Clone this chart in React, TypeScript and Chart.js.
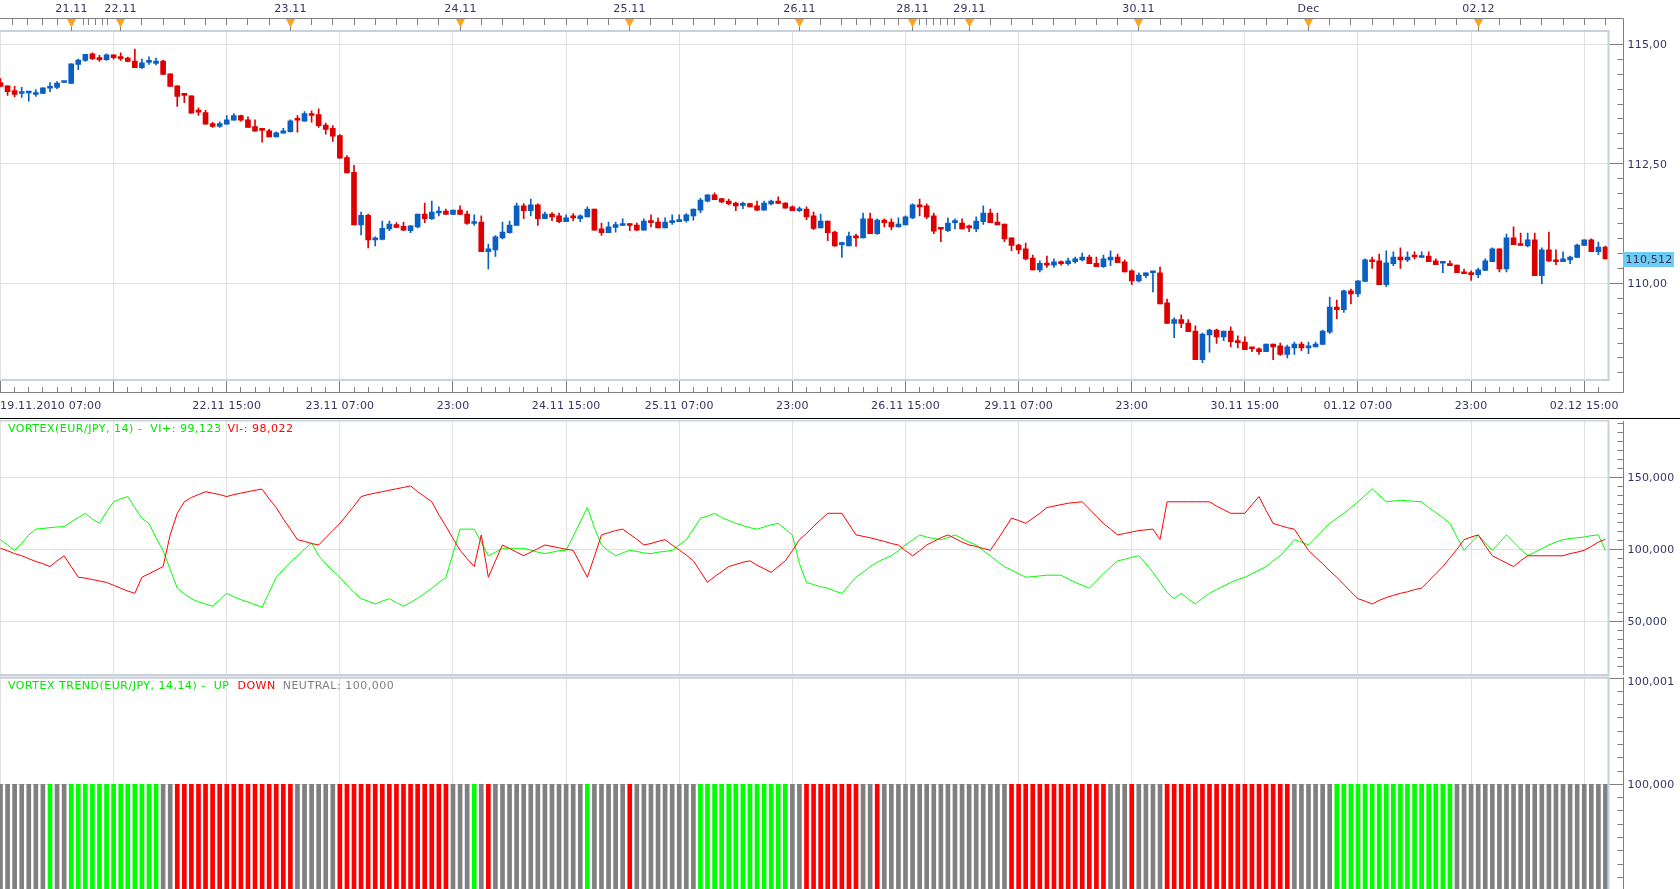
import React, { useEffect, useRef } from "react";
import { Chart, registerables } from "chart.js";

Chart.register(...registerables);

// ---------------- data ----------------
const OPEN = [114.20,114.13,114.03,113.97,113.98,113.95,113.97,114.08,114.10,114.20,114.18,114.58,114.66,114.80,114.72,114.68,114.78,114.74,114.71,114.65,114.51,114.62,114.60,114.65,114.38,114.13,113.94,113.92,113.60,113.57,113.34,113.28,113.33,113.41,113.51,113.42,113.28,113.22,113.19,113.06,113.14,113.17,113.42,113.39,113.55,113.53,113.31,113.24,113.09,112.63,112.32,111.22,111.42,110.91,110.92,111.14,111.23,111.19,111.10,111.18,111.45,111.35,111.47,111.51,111.44,111.53,111.45,111.25,111.28,110.66,110.70,110.95,111.06,111.21,111.62,111.52,111.64,111.35,111.45,111.41,111.29,111.39,111.35,111.39,111.55,111.14,111.06,111.17,111.21,111.24,111.22,111.11,111.30,111.28,111.16,111.27,111.29,111.31,111.41,111.53,111.72,111.85,111.77,111.72,111.68,111.63,111.67,111.62,111.53,111.66,111.72,111.68,111.60,111.52,111.55,111.41,111.16,111.30,111.07,110.81,110.78,110.99,110.95,111.35,111.04,111.32,111.28,111.18,111.22,111.37,111.64,111.62,111.41,111.14,111.10,111.27,111.26,111.18,111.14,111.29,111.47,111.28,111.24,110.95,110.80,110.72,110.53,110.28,110.42,110.38,110.45,110.41,110.45,110.49,110.55,110.42,110.35,110.49,110.55,110.45,110.26,110.05,110.16,110.22,110.22,109.59,109.16,109.24,109.17,109.00,108.40,108.92,109.02,108.88,109.00,108.79,108.77,108.65,108.63,108.57,108.73,108.69,108.51,108.65,108.73,108.65,108.67,108.72,108.98,109.50,109.45,109.84,109.78,110.04,110.49,110.47,109.97,110.41,110.55,110.49,110.57,110.54,110.57,110.47,110.42,110.40,110.38,110.24,110.22,110.18,110.27,110.45,110.72,110.30,110.95,110.83,110.78,110.91,110.16,110.70,110.49,110.45,110.49,110.54,110.79,110.91,110.66,110.76];
const HIGH = [114.28,114.13,114.12,114.10,113.99,114.05,114.09,114.20,114.22,114.21,114.59,114.69,114.79,114.82,114.77,114.80,114.78,114.82,114.73,114.90,114.69,114.74,114.71,114.67,114.38,114.13,113.94,113.92,113.67,113.62,113.37,113.38,113.51,113.55,113.52,113.48,113.42,113.22,113.22,113.17,113.24,113.42,113.51,113.59,113.61,113.65,113.35,113.30,113.11,112.67,112.47,111.49,111.45,110.97,111.30,111.30,111.27,111.28,111.21,111.45,111.68,111.72,111.60,111.55,111.53,111.62,111.51,111.43,111.41,110.82,111.00,111.28,111.30,111.68,111.67,111.76,111.66,111.49,111.48,111.47,111.43,111.46,111.43,111.60,111.55,111.26,111.28,111.28,111.35,111.25,111.26,111.35,111.43,111.37,111.37,111.43,111.43,111.46,111.55,111.78,111.85,111.89,111.78,111.76,111.70,111.70,111.68,111.72,111.72,111.74,111.81,111.69,111.62,111.60,111.60,111.49,111.45,111.30,111.09,110.86,111.07,111.03,111.47,111.47,111.35,111.35,111.35,111.37,111.41,111.66,111.76,111.66,111.47,111.14,111.37,111.35,111.35,111.22,111.39,111.62,111.55,111.47,111.24,110.95,110.82,110.84,110.59,110.47,110.57,110.51,110.47,110.53,110.55,110.63,110.59,110.55,110.59,110.68,110.61,110.49,110.28,110.22,110.22,110.23,110.34,109.67,109.28,109.34,109.24,109.11,108.96,109.04,109.04,109.00,109.09,108.90,108.88,108.65,108.65,108.73,108.73,108.75,108.71,108.77,108.77,108.77,108.77,109.02,109.71,109.65,109.86,109.88,110.05,110.51,110.55,110.61,110.68,110.66,110.74,110.66,110.66,110.66,110.66,110.51,110.45,110.47,110.38,110.30,110.26,110.32,110.51,110.74,110.72,111.03,111.18,111.05,111.05,111.05,110.74,111.07,110.70,110.66,110.57,110.82,110.91,110.93,110.86,110.78];
const LOW = [114.12,113.93,113.90,113.89,113.81,113.91,113.97,114.01,114.07,114.20,114.18,114.47,114.64,114.68,114.64,114.66,114.69,114.66,114.63,114.51,114.49,114.58,114.57,114.37,114.12,113.70,113.78,113.56,113.51,113.33,113.26,113.26,113.33,113.41,113.39,113.26,113.18,112.95,113.06,113.06,113.14,113.16,113.16,113.39,113.37,113.26,113.12,112.97,112.62,112.31,111.22,111.01,110.74,110.78,110.91,111.10,111.16,111.10,111.06,111.16,111.27,111.33,111.41,111.44,111.44,111.44,111.23,111.21,110.66,110.30,110.56,110.93,111.05,111.21,111.35,111.41,111.21,111.35,111.31,111.27,111.29,111.31,111.29,111.39,111.11,111.00,111.06,111.07,111.21,111.10,111.10,111.11,111.18,111.16,111.16,111.23,111.29,111.28,111.32,111.48,111.70,111.75,111.68,111.64,111.52,111.56,111.60,111.52,111.53,111.64,111.67,111.57,111.52,111.50,111.33,111.12,111.16,110.89,110.77,110.54,110.78,110.77,110.95,111.04,111.02,111.18,111.12,111.18,111.22,111.35,111.41,111.35,111.04,110.87,111.08,111.14,111.14,111.08,111.08,111.23,111.27,111.22,110.87,110.68,110.62,110.49,110.28,110.24,110.33,110.33,110.38,110.38,110.42,110.47,110.41,110.35,110.33,110.37,110.43,110.24,109.97,110.03,110.12,109.82,109.57,109.16,108.86,109.07,108.99,108.40,108.34,108.56,108.74,108.80,108.67,108.65,108.61,108.57,108.51,108.57,108.40,108.49,108.44,108.51,108.59,108.53,108.67,108.72,108.95,109.26,109.39,109.57,109.72,110.04,110.31,109.97,109.93,110.37,110.31,110.45,110.51,110.54,110.45,110.39,110.22,110.37,110.22,110.20,110.06,110.12,110.27,110.45,110.24,110.24,110.81,110.79,110.76,110.16,109.99,110.45,110.39,110.45,110.41,110.54,110.79,110.66,110.60,110.51];
const CLOSE = [114.12,114.01,113.95,113.99,113.99,113.99,114.09,114.11,114.19,114.21,114.59,114.67,114.79,114.70,114.68,114.78,114.72,114.70,114.64,114.51,114.61,114.63,114.65,114.37,114.12,113.91,113.93,113.56,113.58,113.33,113.28,113.34,113.42,113.51,113.41,113.26,113.18,113.20,113.06,113.15,113.19,113.40,113.41,113.55,113.51,113.30,113.22,113.08,112.62,112.31,111.22,111.42,110.91,110.94,111.15,111.24,111.17,111.11,111.20,111.45,111.35,111.49,111.51,111.44,111.53,111.44,111.25,111.28,110.66,110.72,110.97,111.07,111.22,111.62,111.52,111.64,111.35,111.45,111.39,111.29,111.37,111.37,111.41,111.55,111.11,111.06,111.18,111.23,111.24,111.21,111.11,111.30,111.27,111.16,111.28,111.30,111.32,111.43,111.55,111.74,111.85,111.75,111.70,111.66,111.62,111.66,111.60,111.53,111.68,111.72,111.67,111.57,111.52,111.55,111.39,111.15,111.30,111.06,110.78,110.82,110.99,110.95,111.35,111.04,111.32,111.27,111.18,111.24,111.39,111.64,111.60,111.39,111.09,111.13,111.26,111.28,111.14,111.16,111.30,111.47,111.27,111.22,110.93,110.79,110.70,110.51,110.28,110.42,110.38,110.45,110.41,110.47,110.51,110.55,110.41,110.35,110.51,110.55,110.43,110.24,110.05,110.17,110.22,110.23,109.57,109.16,109.24,109.16,108.99,108.40,108.94,109.02,108.88,109.00,108.78,108.76,108.61,108.63,108.57,108.73,108.67,108.51,108.67,108.73,108.65,108.69,108.73,109.00,109.50,109.45,109.84,109.78,110.05,110.49,110.45,109.97,110.43,110.55,110.49,110.55,110.55,110.57,110.45,110.39,110.43,110.37,110.22,110.20,110.18,110.28,110.47,110.72,110.30,110.95,110.81,110.79,110.91,110.16,110.70,110.47,110.45,110.51,110.55,110.80,110.91,110.66,110.76,110.512];

const VI_PLUS = [106.7,103,99.3,104,110,114,114.5,115,115.5,115.7,119,122,125,121,118,126,133,135,136.6,129,121.6,118,108,99,86,73,69,65.7,63.5,62,60.5,65,69.4,67,65,63.4,61.5,59.7,70,80.6,86,91,95.5,100,104.5,95.5,90,85,80.6,75,70,65.7,64,62,64,65.7,63,60.5,63,66,69.4,73,77,80.6,97,114,114,114,105,95.5,98,100.7,100.7,100.7,100.7,99.5,98,97,98,99,99.3,109,119,129,115,103,99,95.5,97.5,99.3,98.5,97.5,97,98,98.5,99.3,103,106.7,114,121.6,123,125,122,120,118,116.5,115,114,115.5,117,118,114,110,90,77,75.5,74,73,71,69.4,75,80.6,84,88,91,93.5,95.5,99,103,106.5,110,108.5,107.5,106.7,108,110,107.5,105,103,99,95.5,91.5,88,85.5,83,80.6,81,81.5,82,82,82,79.5,77,75,73,78,83,87.5,92,93,94.5,95.5,90,84,77,70,65.7,69.4,65.5,62,66,69.4,72,74.5,77,79,80.6,83,85.5,88,92,95.5,101,106.7,105,103,108,113,118,121.5,125,129,133,137.5,142,137.5,133,133.5,134,133.7,133.3,133,129,125.5,122,118,108.5,99.3,104.5,110,104.5,99.3,104.5,110,105,100,95.5,98,100.5,103,105,106.7,107.5,108,108.5,109.5,110,99.1];
const VI_MINUS = [100.7,99,97,95.5,93.5,91.5,90,88,92,95.5,88,80.6,80,79,78,77,75,73,71,69.4,80.6,83,85.5,88,110,125,133,136,138,140,139,138,136.6,138,139,140,141,141.8,135,129,121,114,106.7,105.5,104,103,108,113,118,124,130,136.6,138,139,140,141,142,143,144,140,136.5,133,124,116,107.5,99.3,93.5,88,110,80.6,92,103,100.5,98,95.5,98,100.5,103,102,101,100,99.3,90,80.6,95,110,111.5,113,114,110.5,107,103,104,105.5,106.7,103,99.5,96,92,84.5,77,81,84.5,88,89.5,91,92,89,86.5,84,88,92,99,106.7,111,116,120.5,125,125,125,117.5,110,109,108,106.7,105.5,104,103,99,95.5,99,103,105.5,108,110,107.5,105,103,102,100.5,99.3,106.5,114,121.6,120,118,121.5,125,129,130,131,132,132.5,133,128,123,118,114,110,111,112,113,113.5,114,106.7,133,133,133,133,133,133,133,130,127.5,125,125,125,131,136.6,127,118,116.5,115,114,106.5,99.3,94.5,90,85,80.6,75.5,70.5,65.7,64,62,64.5,66.5,68,69.4,70.5,72,73,78,83,88,94,100,106.7,108.5,110,102.5,95.5,93,90.5,88,92,95.5,95.5,95.5,95.5,95.5,95.5,97,98,99.3,102,105,107];

// U = up (green), D = down (red), N = neutral (grey); one letter per bar, read left to right
const TREND = [
  "NNNNNNN", "U", "NN", "UUUUUUUUUUUUU", "NN", "DDDDDDDDDDDDDDDDD", "NNNNNN", "DDDDDDDDDDDDDDDD",
  "NNN", "U", "N", "D", "NNNNNNNNNNNNN", "U", "NNNNN", "D", "NNNNNNNNN", "UUUUUUUUUUUUU",
  "NN", "DDDDDDDD", "NN", "D", "NNNNNNNNNNNNNNNNNN", "DDDDDDDDDDDDDD", "NNN", "D", "NNNN",
  "DDDDDDDDDDDDDDDDDD", "NNNNNN", "UUUUUUUUUUUUUUUUU", "NNNNNNNNNNNNNNNNNNNNNN",
].join("").split("");

const MARKER_LABELS = ["21.11", "22.11", "23.11", "24.11", "25.11", "26.11", "28.11", "29.11", "30.11", "Dec", "02.12"];
const MARKER_INDEX = [10, 17, 41, 65, 89, 113, 129, 137, 161, 185, 209];
const TIME_LABELS = ["19.11.2010 07:00", "", "22.11 15:00", "23.11 07:00", "23:00", "24.11 15:00", "25.11 07:00", "23:00", "26.11 15:00", "29.11 07:00", "23:00", "30.11 15:00", "01.12 07:00", "23:00", "02.12 15:00"];
const PRICE_TICKS = [115, 112.5, 110];
const VI_TICKS = [150, 100, 50];
const TREND_TICKS = [100.001, 100.0];
const VI_PLUS_LABEL = "99,123";
const VI_MINUS_LABEL = "98,022";
const NEUTRAL_LABEL = "100,000";

// ---------------- layout / style ----------------
const W = 1680;
const H = 889;
const PLOT_R = 1608.5;
const AXIS_X = 1623.5;
const X_MIN = -0.07;
const X_MAX = 227.43;
const GRID_EVERY = 16;
const FONT = '11px "DejaVu Sans", Verdana, sans-serif';
const TXT = "#333366";
const GRID = "#e2e2e2";
const FRAME = "#c9d1dd";
const AXIS = "#808080";
const RED = "#dd0000";
const BLUE = "#0a5fc2";
const LIME = "#00ff00";
const LEG_GREEN = "#00e600";
const PURE_RED = "#ff0000";
const GREY = "#808080";

const P_TOP = 32, P_BOTTOM = 380, P_H = 420;
const P_MIN = 107.977, P_MAX = 115.257;
const V_TOP = 1, V_BOTTOM = 255, V_H = 256;
const V_MIN = 12.7, V_MAX = 189.1;
const T_TOP = 2, T_BOTTOM = 213, T_H = 213;
const T_MIN = 99.9990151, T_MAX = 100.001;

function steps(from: number, to: number, step: number): number[] {
  const r: number[] = [];
  const n = Math.round((to - from) / step);
  for (let k = 0; k <= n; k++) r.push(from + k * step);
  return r;
}

const TOP_TICKS: number[] = (() => {
  const t = [1.7, 3.8, 5.9, 8, 10, 11.7, 12.5, 13.5, 14.4, 15.1];
  for (let i = 17; i <= 119; i += 3) t.push(i);
  for (let i = 121; i <= 129; i += 2) t.push(i);
  for (let i = 130; i <= 135; i++) t.push(i);
  for (let i = 137; i <= 227; i += 3) t.push(i);
  return t;
})();

function setSpacing(ctx: any, s: string) {
  if ("letterSpacing" in ctx) ctx.letterSpacing = s;
}

function baseOptions(top: number, bottom: number, height: number, yMin: number, yMax: number): any {
  return {
    responsive: false,
    maintainAspectRatio: false,
    animation: false,
    devicePixelRatio: 1,
    events: [],
    layout: { padding: { left: 0, right: W - PLOT_R, top, bottom: height - bottom } },
    plugins: { legend: { display: false }, tooltip: { enabled: false }, title: { display: false } },
    scales: {
      x: { type: "linear", min: X_MIN, max: X_MAX, offset: false, grid: { offset: false }, display: false },
      y: { type: "linear", min: yMin, max: yMax, display: false },
    },
  };
}

const px = (v: number) => Math.floor(v) + 0.5;

function drawGrid(chart: any, hVals: number[]) {
  const { ctx, chartArea: a, scales } = chart;
  ctx.save();
  ctx.strokeStyle = GRID;
  ctx.lineWidth = 1;
  ctx.beginPath();
  for (let i = 0; i < OPEN.length; i += GRID_EVERY) {
    const x = px(scales.x.getPixelForValue(i));
    ctx.moveTo(x, a.top);
    ctx.lineTo(x, a.bottom);
  }
  hVals.forEach((v) => {
    const y = px(scales.y.getPixelForValue(v));
    ctx.moveTo(a.left, y);
    ctx.lineTo(a.right, y);
  });
  ctx.stroke();
  ctx.restore();
}

function drawFrame(ctx: CanvasRenderingContext2D, top: number, bottom: number) {
  ctx.save();
  ctx.strokeStyle = FRAME;
  ctx.lineWidth = 2;
  ctx.beginPath();
  ctx.moveTo(0, top);
  ctx.lineTo(PLOT_R, top);
  ctx.lineTo(PLOT_R, bottom);
  ctx.lineTo(0, bottom);
  ctx.stroke();
  ctx.restore();
}

function drawRightAxis(
  ctx: CanvasRenderingContext2D,
  y: any,
  lineTop: number,
  lineBottom: number,
  majors: number[],
  minors: number[],
  fmt: (v: number) => string,
  labelMin = -1e9
) {
  ctx.save();
  ctx.strokeStyle = AXIS;
  ctx.lineWidth = 1;
  ctx.beginPath();
  ctx.moveTo(AXIS_X, lineTop);
  ctx.lineTo(AXIS_X, lineBottom);
  minors.forEach((v) => {
    const py = px(y.getPixelForValue(v));
    if (py < lineTop || py > lineBottom) return;
    ctx.moveTo(AXIS_X - 6, py);
    ctx.lineTo(AXIS_X, py);
  });
  majors.forEach((v) => {
    const py = px(y.getPixelForValue(v));
    ctx.moveTo(PLOT_R + 1, py);
    ctx.lineTo(AXIS_X, py);
  });
  ctx.stroke();
  ctx.fillStyle = TXT;
  ctx.font = FONT;
  setSpacing(ctx, "0.2px");
  ctx.textAlign = "left";
  ctx.textBaseline = "middle";
  majors.forEach((v) => {
    const py = Math.max(y.getPixelForValue(v) + 1, labelMin);
    ctx.fillText(fmt(v), AXIS_X + 4, py);
  });
  ctx.restore();
}

function drawLegend(ctx: CanvasRenderingContext2D, x: number, y: number, parts: [string, string, number][]) {
  ctx.save();
  ctx.font = FONT;
  setSpacing(ctx, "0.5px");
  ctx.textAlign = "left";
  ctx.textBaseline = "middle";
  let cx = x;
  parts.forEach(([t, c, gap]) => {
    ctx.fillStyle = c;
    ctx.fillText(t, cx, y);
    cx += ctx.measureText(t).width + gap;
  });
  ctx.restore();
}

const comma = (v: number, d: number) => v.toFixed(d).replace(".", ",");

// ---------------- configs ----------------
function priceConfig(): any {
  const colors = CLOSE.map((c, i) => (c < OPEN[i] ? RED : BLUE));
  const opts = baseOptions(P_TOP, P_BOTTOM, P_H, P_MIN, P_MAX);
  return {
    type: "bar",
    data: {
      datasets: [
        {
          data: LOW.map((l, i) => ({ x: i, y: [l, HIGH[i]] })),
          backgroundColor: colors,
          barThickness: 1,
          grouped: false,
          order: 2,
        },
        {
          data: OPEN.map((o, i) => ({ x: i, y: [o, CLOSE[i]] })),
          backgroundColor: colors,
          barThickness: 5,
          minBarLength: 2,
          grouped: false,
          order: 1,
        },
      ],
    },
    options: opts,
    plugins: [
      {
        id: "pricePanel",
        beforeDatasetsDraw(chart: any) {
          drawGrid(chart, PRICE_TICKS);
        },
        afterDraw(chart: any) {
          const { ctx, scales } = chart;
          const x = scales.x, y = scales.y;
          drawFrame(ctx, 31, P_BOTTOM);
          ctx.save();
          // top ruler
          ctx.strokeStyle = AXIS;
          ctx.lineWidth = 1;
          ctx.beginPath();
          ctx.moveTo(0, 18.5);
          ctx.lineTo(AXIS_X, 18.5);
          TOP_TICKS.forEach((t) => {
            const xx = px(x.getPixelForValue(t));
            ctx.moveTo(xx, 18.5);
            ctx.lineTo(xx, 25);
          });
          ctx.stroke();
          ctx.font = FONT;
          setSpacing(ctx, "0.2px");
          ctx.textBaseline = "middle";
          ctx.textAlign = "center";
          MARKER_INDEX.forEach((idx, k) => {
            const xx = px(x.getPixelForValue(idx));
            ctx.strokeStyle = AXIS;
            ctx.beginPath();
            ctx.moveTo(xx, 24);
            ctx.lineTo(xx, 31);
            ctx.stroke();
            ctx.fillStyle = "#ffa31a";
            ctx.beginPath();
            ctx.moveTo(xx - 4.5, 19);
            ctx.lineTo(xx + 4.5, 19);
            ctx.lineTo(xx, 27.5);
            ctx.closePath();
            ctx.fill();
            ctx.fillStyle = TXT;
            ctx.fillText(MARKER_LABELS[k], xx, 9);
          });
          // bottom time axis
          ctx.strokeStyle = AXIS;
          ctx.beginPath();
          ctx.moveTo(0, 392.5);
          ctx.lineTo(AXIS_X, 392.5);
          for (let i = 0; i < OPEN.length; i += 2) {
            const xx = px(x.getPixelForValue(i));
            const major = i % GRID_EVERY === 0;
            ctx.moveTo(xx, major ? 381 : 387);
            ctx.lineTo(xx, 392.5);
          }
          ctx.stroke();
          ctx.fillStyle = TXT;
          TIME_LABELS.forEach((lab, k) => {
            if (!lab) return;
            const xx = x.getPixelForValue(k * GRID_EVERY);
            if (k === 0) {
              ctx.textAlign = "left";
              ctx.fillText(lab, 0, 406);
            } else {
              ctx.textAlign = "center";
              ctx.fillText(lab, xx, 406);
            }
          });
          // separator
          ctx.strokeStyle = "#000000";
          ctx.beginPath();
          ctx.moveTo(0, 418.5);
          ctx.lineTo(W, 418.5);
          ctx.stroke();
          ctx.restore();
          // right price axis
          const minors = steps(107.5, 115.3125, 0.3125).filter((v) => v > P_MIN && v < P_MAX);
          drawRightAxis(ctx, y, 18.5, 392.5, PRICE_TICKS, minors, (v) => comma(v, 2));
          // last price box
          const last = CLOSE[CLOSE.length - 1];
          const ly = y.getPixelForValue(last);
          ctx.save();
          ctx.fillStyle = "#6cccf2";
          ctx.fillRect(AXIS_X - 0.5, Math.round(ly) - 7, 51, 15);
          ctx.fillStyle = TXT;
          ctx.font = FONT;
          setSpacing(ctx, "0.2px");
          ctx.textAlign = "left";
          ctx.textBaseline = "middle";
          ctx.fillText(comma(last, 3), AXIS_X + 2, Math.round(ly) + 1);
          ctx.restore();
        },
      },
    ],
  };
}

function vortexConfig(): any {
  const opts = baseOptions(V_TOP, V_BOTTOM, V_H, V_MIN, V_MAX);
  return {
    type: "line",
    data: {
      datasets: [
        {
          data: VI_MINUS.map((v, i) => ({ x: i, y: v })),
          borderColor: PURE_RED,
          borderWidth: 1,
          pointRadius: 0,
          tension: 0,
          fill: false,
        },
        {
          data: VI_PLUS.map((v, i) => ({ x: i, y: v })),
          borderColor: LIME,
          borderWidth: 1,
          pointRadius: 0,
          tension: 0,
          fill: false,
        },
      ],
    },
    options: opts,
    plugins: [
      {
        id: "vortexPanel",
        beforeDatasetsDraw(chart: any) {
          drawGrid(chart, VI_TICKS);
        },
        afterDraw(chart: any) {
          const { ctx, scales } = chart;
          drawFrame(ctx, 0.5, V_BOTTOM);
          drawRightAxis(ctx, scales.y, 1, V_BOTTOM, VI_TICKS, steps(18.75, 187.5, 6.25), (v) => comma(v, 3));
          drawLegend(ctx, 8, 9.5, [
            ["VORTEX(EUR/JPY, 14) -  VI+: " + VI_PLUS_LABEL, LEG_GREEN, 6],
            ["VI-: " + VI_MINUS_LABEL, PURE_RED, 0],
          ]);
        },
      },
    ],
  };
}

function trendConfig(): any {
  const opts = baseOptions(T_TOP, T_BOTTOM, T_H, T_MIN, T_MAX);
  const colorOf: Record<string, string> = { U: LIME, D: PURE_RED, N: GREY };
  return {
    type: "bar",
    data: {
      datasets: [
        {
          data: TREND.map((_, i) => ({ x: i, y: [99.998, 100] })),
          backgroundColor: TREND.map((t) => colorOf[t]),
          barThickness: 4,
          grouped: false,
        },
      ],
    },
    options: opts,
    plugins: [
      {
        id: "trendPanel",
        beforeDatasetsDraw(chart: any) {
          drawGrid(chart, TREND_TICKS);
        },
        afterDraw(chart: any) {
          const { ctx, scales } = chart;
          drawFrame(ctx, 1.5, T_H + 5);
          drawRightAxis(ctx, scales.y, 1, T_H, TREND_TICKS, steps(99.998, 100.002, 0.000125), (v) => comma(v, 3), 6);
          drawLegend(ctx, 8, 10, [
            ["VORTEX TREND(EUR/JPY, 14,14) -  UP", LEG_GREEN, 8],
            ["DOWN", PURE_RED, 7],
            ["NEUTRAL: " + NEUTRAL_LABEL, GREY, 0],
          ]);
        },
      },
    ],
  };
}

function Panel({ top, height, make }: { top: number; height: number; make: () => any }) {
  const ref = useRef<HTMLCanvasElement | null>(null);
  useEffect(() => {
    const chart = new Chart(ref.current as HTMLCanvasElement, make());
    return () => chart.destroy();
  }, []);
  return (
    <canvas
      ref={ref}
      width={W}
      height={height}
      style={{ position: "absolute", left: 0, top, width: W, height, display: "block" }}
    />
  );
}

export default function App() {
  return (
    <div
      style={{
        position: "fixed",
        left: 0,
        top: 0,
        width: W,
        height: H,
        overflow: "hidden",
        background: "#ffffff",
      }}
    >
      <Panel top={0} height={P_H} make={priceConfig} />
      <Panel top={420} height={V_H} make={vortexConfig} />
      <Panel top={676} height={T_H} make={trendConfig} />
    </div>
  );
}
